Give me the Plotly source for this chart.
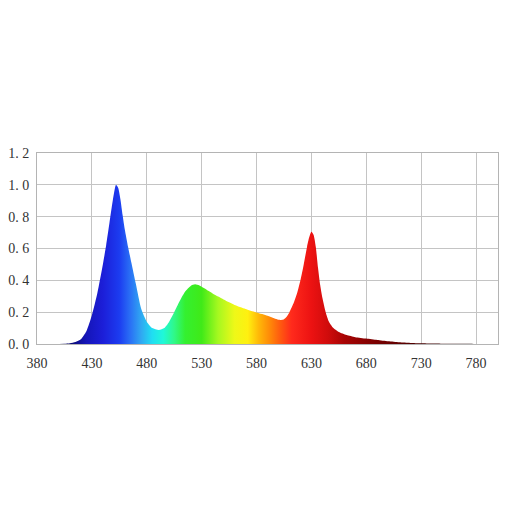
import plotly.graph_objects as go

# ----------------------------- data -----------------------------#
wavelength = [400, 405, 410, 415, 420, 425, 430, 435, 440, 443, 446, 449, 452, 454, 456, 458,
              460, 463, 466, 470, 475, 480, 485, 491, 496, 500, 505, 510, 515, 520, 524, 528,
              532, 536, 540, 545, 550, 555, 560, 570, 580, 590, 596, 600, 604, 607, 610, 614,
              617, 620, 623, 626, 628, 630, 632, 634, 636, 638, 640, 643, 646, 650, 655, 662,
              670, 680, 690, 700, 710, 720, 730, 740, 750, 760, 770, 776, 778]
intensity = [0.0, 0.002, 0.005, 0.012, 0.03, 0.08, 0.18, 0.32, 0.50, 0.62, 0.76, 0.90, 1.0, 0.98, 0.91, 0.81,
             0.72, 0.61, 0.51, 0.38, 0.22, 0.14, 0.10, 0.088, 0.10, 0.135, 0.20, 0.27, 0.33, 0.365, 0.375, 0.368,
             0.352, 0.335, 0.318, 0.298, 0.28, 0.262, 0.245, 0.22, 0.198, 0.178, 0.162, 0.152, 0.152, 0.168, 0.20, 0.26,
             0.32, 0.40, 0.50, 0.61, 0.67, 0.705, 0.685, 0.61, 0.48, 0.37, 0.29, 0.20, 0.14, 0.10, 0.075, 0.056,
             0.043, 0.034, 0.025, 0.017, 0.011, 0.007, 0.005, 0.003, 0.002, 0.001, 0.001, 0.002, 0.0]

# colours of the spectrum, by wavelength
color_wl = [380, 410, 425, 440, 455, 465, 475, 485, 495, 505, 515, 530, 545, 560, 572, 582, 592,
            602, 612, 630, 645, 660, 690, 730, 780]
color_hex = ['#05052a', '#0a0a70', '#1515b8', '#1c1ed8', '#1c3cf0', '#2a70f5', '#30a8f2', '#20def2',
             '#20f8d8', '#30f888', '#34f030', '#40ea18', '#a6f820', '#eef818', '#fff010', '#ffb808',
             '#ff8a08', '#ff5810', '#ff2a1c', '#ec1212', '#d00c0c', '#a80404', '#780000', '#4a0000',
             '#100000']

x_ticks = [380, 430, 480, 530, 580, 630, 680, 730, 780]
y_ticks = [0.0, 0.2, 0.4, 0.6, 0.8, 1.0, 1.2]
y_tick_text = ['0. 0', '0. 2', '0. 4', '0. 6', '0. 8', '1. 0', '1. 2']

# ----------------------------- plot -----------------------------#
wl_min, wl_max = 380, 780
scale = [[(w - wl_min) / (wl_max - wl_min), c] for w, c in zip(color_wl, color_hex)]

fig = go.Figure()
fig.add_trace(go.Scatter(
    x=wavelength, y=intensity,
    mode='lines',
    line=dict(width=0, shape='spline', smoothing=0.6),
    fill='tozeroy',
    fillgradient=dict(type='horizontal', colorscale=scale, start=wl_min, stop=wl_max),
    hoverinfo='skip',
    showlegend=False,
))

# the page body has an 8px margin, so the figure is a bit smaller than the window
font = dict(family='Liberation Serif, DejaVu Serif, serif', size=14, color='#333333')
fig.update_layout(
    width=505, height=505,
    margin=dict(l=29, r=15, t=145, b=169),
    paper_bgcolor='white',
    plot_bgcolor='white',
    xaxis=dict(
        range=[380, 800],
        tickvals=x_ticks,
        showgrid=True, gridcolor='#c4c4c4', gridwidth=1,
        showline=True, linecolor='#b4b4b4', mirror=True,
        zeroline=False, automargin=False,
        ticks='outside', ticklen=6, tickcolor='rgba(0,0,0,0)',
        tickfont=font,
    ),
    yaxis=dict(
        range=[0, 1.2],
        tickvals=y_ticks, ticktext=y_tick_text,
        showgrid=True, gridcolor='#c4c4c4', gridwidth=1,
        showline=True, linecolor='#b4b4b4', mirror=True,
        zeroline=False, automargin=False,
        ticks='outside', ticklen=4, tickcolor='rgba(0,0,0,0)',
        tickfont=font,
    ),
)

fig.write_html("out.html")
